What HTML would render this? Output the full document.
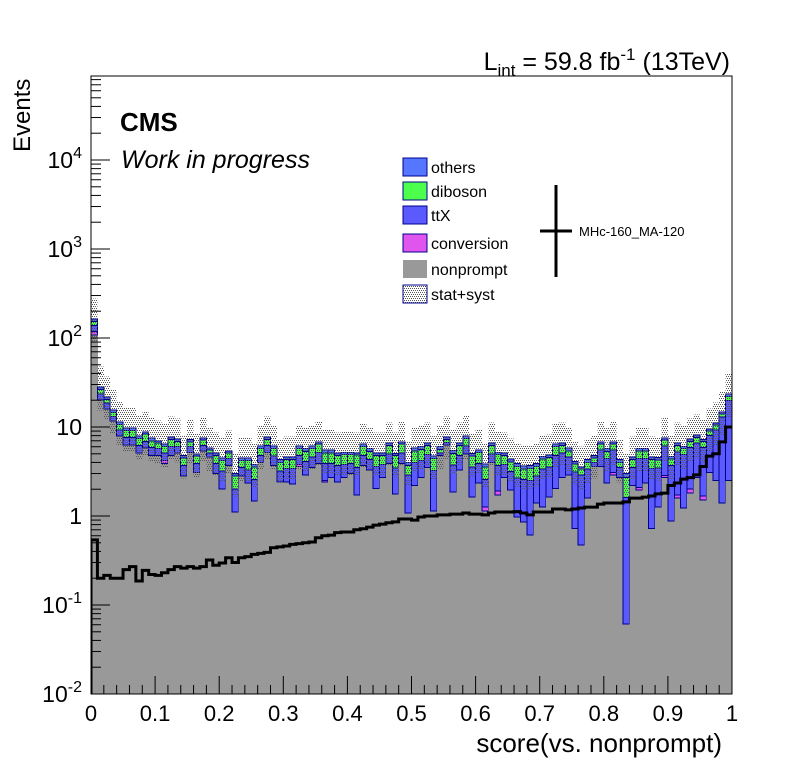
<!DOCTYPE html>
<html><head><meta charset="utf-8"><style>
html,body{margin:0;padding:0;background:#fff;}
svg{display:block;font-family:"Liberation Sans",sans-serif;}
</style></head><body>
<svg id="chart" width="796" height="772" viewBox="0 0 796 772" xmlns="http://www.w3.org/2000/svg">
<defs>
<pattern id="hatch" width="4" height="4" patternUnits="userSpaceOnUse">
<rect x="0" y="0" width="1" height="1" fill="#555"/><rect x="2" y="0" width="1" height="1" fill="#555"/><rect x="1" y="2" width="1" height="1" fill="#555"/><rect x="3" y="2" width="1" height="1" fill="#555"/>
</pattern>
<clipPath id="plotclip"><rect x="91" y="76" width="641" height="618"/></clipPath>
</defs>
<rect x="0" y="0" width="796" height="772" fill="#fff"/>
<g id="bars" clip-path="url(#plotclip)" shape-rendering="crispEdges"></g>
<g id="band" clip-path="url(#plotclip)" shape-rendering="crispEdges"></g>
<g id="sig" clip-path="url(#plotclip)"></g>
<rect x="91" y="76" width="641" height="618" fill="none" stroke="#000" stroke-width="1"/>
<g id="axes"></g>
<text x="730" y="70" text-anchor="end" font-size="25">L<tspan font-size="17" dy="6">int</tspan><tspan dy="-6"> = 59.8 fb</tspan><tspan font-size="17" dy="-10">-1</tspan><tspan dy="10"> (13TeV)</tspan></text>
<text x="120" y="131" font-size="26" font-weight="bold">CMS</text>
<text x="121" y="168" font-size="25" font-style="italic">Work in progress</text>
<text transform="translate(30,152) rotate(-90)" font-size="24">Events</text>
<text x="722" y="752" text-anchor="end" font-size="26">score(vs. nonprompt)</text>
<g font-size="16">
<g><rect x="403" y="158" width="24" height="18" fill="#5577ff" stroke="#00008b"/><text x="431" y="173">others</text></g>
<g><rect x="403" y="182" width="24" height="18" fill="#4dff4d" stroke="#00008b"/><text x="431" y="197">diboson</text></g>
<g><rect x="403" y="206" width="24" height="18" fill="#5a5aff" stroke="#00008b"/><text x="431" y="221">ttX</text></g>
<g><rect x="403" y="234" width="24" height="18" fill="#e055ee" stroke="#00008b"/><text x="431" y="249">conversion</text></g>
<g><rect x="403" y="260" width="24" height="18" fill="#999"/><text x="431" y="275">nonprompt</text></g>
<g><rect x="403" y="285" width="24" height="18" fill="url(#hatch)" stroke="#00008b"/><text x="431" y="300">stat+syst</text></g>
<g><line x1="556" y1="185" x2="556" y2="277" stroke="#000" stroke-width="3"/><line x1="540" y1="231" x2="572" y2="231" stroke="#000" stroke-width="3"/><text x="579" y="236" font-size="13">MHc-160_MA-120</text></g>
</g>
</svg>
<script>
const nonprompt=[108,20,16,11.7,7.9,6.3,6.3,5.1,5.8,4.8,4.8,3.9,4.8,5.1,2.8,5.2,3.1,5.4,4.6,3.0,2.0,3.7,1.11,2.8,2.35,1.47,4.0,5.2,3.7,2.4,2.4,2.3,3.6,2.9,3.5,3.9,2.4,2.7,2.4,2.7,3.0,1.72,3.7,3.3,2.05,2.7,3.9,1.77,3.9,1.08,2.2,2.7,3.5,1.14,4.8,6.3,1.86,3.3,5.0,1.63,2.35,1.14,4.0,1.72,2.7,1.96,0.98,0.86,0.61,1.4,1.26,1.63,2.05,2.7,2.9,0.72,0.47,1.59,3.6,3.6,2.35,2.9,2.7,0.061,2.2,1.96,2.35,0.72,1.26,2.7,0.88,1.59,1.23,1.81,2.7,1.51,3.1,2.5,1.4,2.5];
const conversion=[10,0,0,0,0,0,0,0,0,0,0,0.3,0,0,0,0,0,0,0,0,0,0,0,0,0,0,0,0,0,0,0,0,0.2,0,0,0,0.1,0,0,0,0,0,0,0,0,0,0,0,0,0,0,0,0,0,0,0,0,0,0,0,0,0.12,0,0.18,0,0,0,0,0,0,0,0,0,0,0,0,0,0,0,0,0,0.2,0,0,0,0.14,0,0,0,0.15,0,0.13,0,0.2,0,0.17,0,0,0,0];
const ttX=[20,3.5,2.5,1.5,1.4,1.3,1.3,1.1,1.1,1.1,0.9,0.9,1.2,0.9,0.9,0.8,0.8,0.8,0.5,0.9,1.2,0.7,0.9,0.7,0.95,1.1,0.8,1.0,1.0,0.8,1.0,1.1,1.0,1.2,1.1,1.3,1.4,1.2,1.3,1.1,0.9,1.8,1.1,1.0,1.55,1.1,1.1,1.7,1.2,1.8,1.8,1.5,1.4,2.1,0.3,0.4,1.9,1.5,1.1,1.9,1.55,1.3,1.0,1.8,1.1,1.2,1.7,1.7,1.9,1.4,2.1,1.9,2.75,2.4,1.7,2.4,2.4,1.8,0.4,1.9,2.05,2.4,0.8,1.55,1.3,2.3,2.05,2.7,2.2,3.25,2.8,3.5,3.7,3.9,3.9,4.2,4.9,6.8,11.6,17.3];
const diboson=[15,3,2,1.4,1.4,1.5,1.5,1.2,1.4,1.1,0.9,0.9,1.2,0.9,0.8,0.8,0.8,0.9,0.4,0.9,1.0,0.7,0.8,0.7,0.9,1.0,0.9,1.0,1.0,0.8,0.9,0.9,0.9,1.2,1.1,1.2,1.2,1.2,1.1,1.1,1.0,1.3,1.2,1.0,1.2,1.0,1.2,1.3,1.3,0.8,1.4,1.4,1.3,1.2,0.5,0.5,1.3,1.4,1.3,1.2,1.3,1.0,1.2,1.2,1.0,0.9,0.9,0.8,0.9,0.8,1.0,1.0,1.2,1.1,0.8,0.7,0.5,0.6,0.5,0.9,0.9,0.9,0.5,1.1,0.8,1.0,1.0,0.9,0.8,1.0,0.7,1.0,0.8,1.0,1.0,1.0,1.0,1.2,1.0,2.3];
const others=[10,1.5,1.2,0.9,0.7,0.6,0.6,0.5,0.5,0.5,0.4,0.4,0.5,0.4,0.3,0.4,0.3,0.4,0.3,0.3,0.3,0.3,0.2,0.3,0.3,0.2,0.4,0.5,0.4,0.3,0.3,0.3,0.4,0.4,0.4,0.4,0.4,0.4,0.3,0.3,0.3,0.3,0.4,0.4,0.3,0.3,0.4,0.3,0.4,0.3,0.4,0.4,0.4,0.3,0.4,0.5,0.4,0.4,0.5,0.3,0.3,0.3,0.4,0.3,0.3,0.3,0.3,0.3,0.3,0.3,0.3,0.3,0.4,0.4,0.4,0.3,0.2,0.3,0.3,0.4,0.4,0.4,0.3,0.3,0.3,0.3,0.3,0.3,0.3,0.4,0.3,0.4,0.3,0.4,0.5,0.4,0.5,0.6,0.8,1.4];
const signal=[0.54,0.2,0.215,0.2,0.2,0.25,0.27,0.186,0.245,0.22,0.215,0.23,0.25,0.27,0.26,0.27,0.26,0.27,0.32,0.28,0.296,0.34,0.3,0.34,0.35,0.37,0.38,0.39,0.44,0.45,0.46,0.48,0.49,0.5,0.51,0.57,0.6,0.61,0.65,0.66,0.66,0.7,0.72,0.75,0.79,0.81,0.84,0.86,0.925,0.925,0.9,0.974,1.0,1.0,1.03,1.03,1.05,1.05,1.08,1.05,1.05,1.03,1.08,1.11,1.11,1.11,1.12,1.08,1.03,1.11,1.11,1.11,1.2,1.2,1.17,1.2,1.23,1.26,1.26,1.36,1.4,1.4,1.4,1.44,1.59,1.59,1.63,1.68,1.77,1.81,2.2,2.35,2.6,2.7,2.9,3.6,4.7,5.0,6.8,10.0];
const xTickLabels=["0","0.1","0.2","0.3","0.4","0.5","0.6","0.7","0.8","0.9","1"];
const yTickExps=[-2,-1,0,1,2,3,4];
const bandLow=0.55, bandHigh=1.7;

const NS="http://www.w3.org/2000/svg";
const X0=91,X1=732,Y0=694,DEC=89;
const xs=v=>X0+(X1-X0)*v;
const ys=v=>Y0-(Math.log10(Math.max(v,1e-4))+2)*DEC;
function mk(tag,attrs,parent){const e=document.createElementNS(NS,tag);for(const k in attrs)e.setAttribute(k,attrs[k]);parent.appendChild(e);return e;}
const nb=nonprompt.length,bw=1/nb;
const gb=document.getElementById('bars');
const layers=[[nonprompt,'#999','none'],[conversion,'#e055ee','#00008b'],[ttX,'#5a5aff','#00008b'],[diboson,'#4dff4d','#00008b'],[others,'#5577ff','#00008b']];
const names=['nonprompt','conversion','ttx','diboson','others'];
const totals=[];
for(let i=0;i<nb;i++){
  let base=0;
  layers.forEach((L,j)=>{
    const v=L[0][i];
    if(v>0){
      const top=base+v;
      const yb=base>0?ys(base):Y0+5;
      const x0=xs(i*bw), x1=xs((i+1)*bw)+(j===0?0.6:0);
      const r=mk('rect',{x:x0,y:ys(top),width:x1-x0,height:Math.max(0,yb-ys(top)),fill:L[1],stroke:L[2],'stroke-width':1},gb);
      
      
    }
    base+=v;
  });
  totals.push(base);
}
const gband=document.getElementById('band');
for(let i=0;i<nb;i++){
  const r=mk('rect',{x:xs(i*bw),y:ys(totals[i]*bandHigh),width:xs((i+1)*bw)-xs(i*bw),height:ys(totals[i]*bandLow)-ys(totals[i]*bandHigh),fill:'url(#hatch)'},gband);
  
  
}
let d='M'+X0+' '+Y0;
for(let i=0;i<nb;i++){d+=' L'+xs(i*bw)+' '+ys(signal[i])+' L'+xs((i+1)*bw)+' '+ys(signal[i]);}
const sp=mk('path',{d:d,fill:'none',stroke:'#000','stroke-width':3},document.getElementById('sig'));


const ax=document.getElementById('axes');
for(let k=0;k<=50;k++){
  const x=xs(k/50);const major=k%5===0;
  const t=mk('line',{x1:x,y1:Y0,x2:x,y2:Y0-(major?18:9),stroke:'#000','stroke-width':1},ax);
  
  
}
xTickLabels.forEach((lab,k)=>{
  const t=mk('text',{x:xs(k/10),y:721,'text-anchor':'middle','font-size':22},ax);t.textContent=lab;
  
  
});
yTickExps.forEach((e,k)=>{
  const y=ys(Math.pow(10,e));
  const t=mk('line',{x1:X0,y1:y,x2:X0+19,y2:y,stroke:'#000'},ax);
  
  
  for(let m=2;m<=9;m++){const ym=ys(m*Math.pow(10,e));if(ym<76)break;
    const mt=mk('line',{x1:X0,y1:ym,x2:X0+10,y2:ym,stroke:'#000'},ax);
    
    }
  const tx=mk('text',{x:82,y:y+8,'text-anchor':'end','font-size':23},ax);
  
  
  if(e===0)tx.textContent='1';else if(e===1)tx.textContent='10';
  else{tx.textContent='10';const s=mk('tspan',{'font-size':16,dy:-10},tx);s.textContent=String(e);}
});
</script>
</body></html>
